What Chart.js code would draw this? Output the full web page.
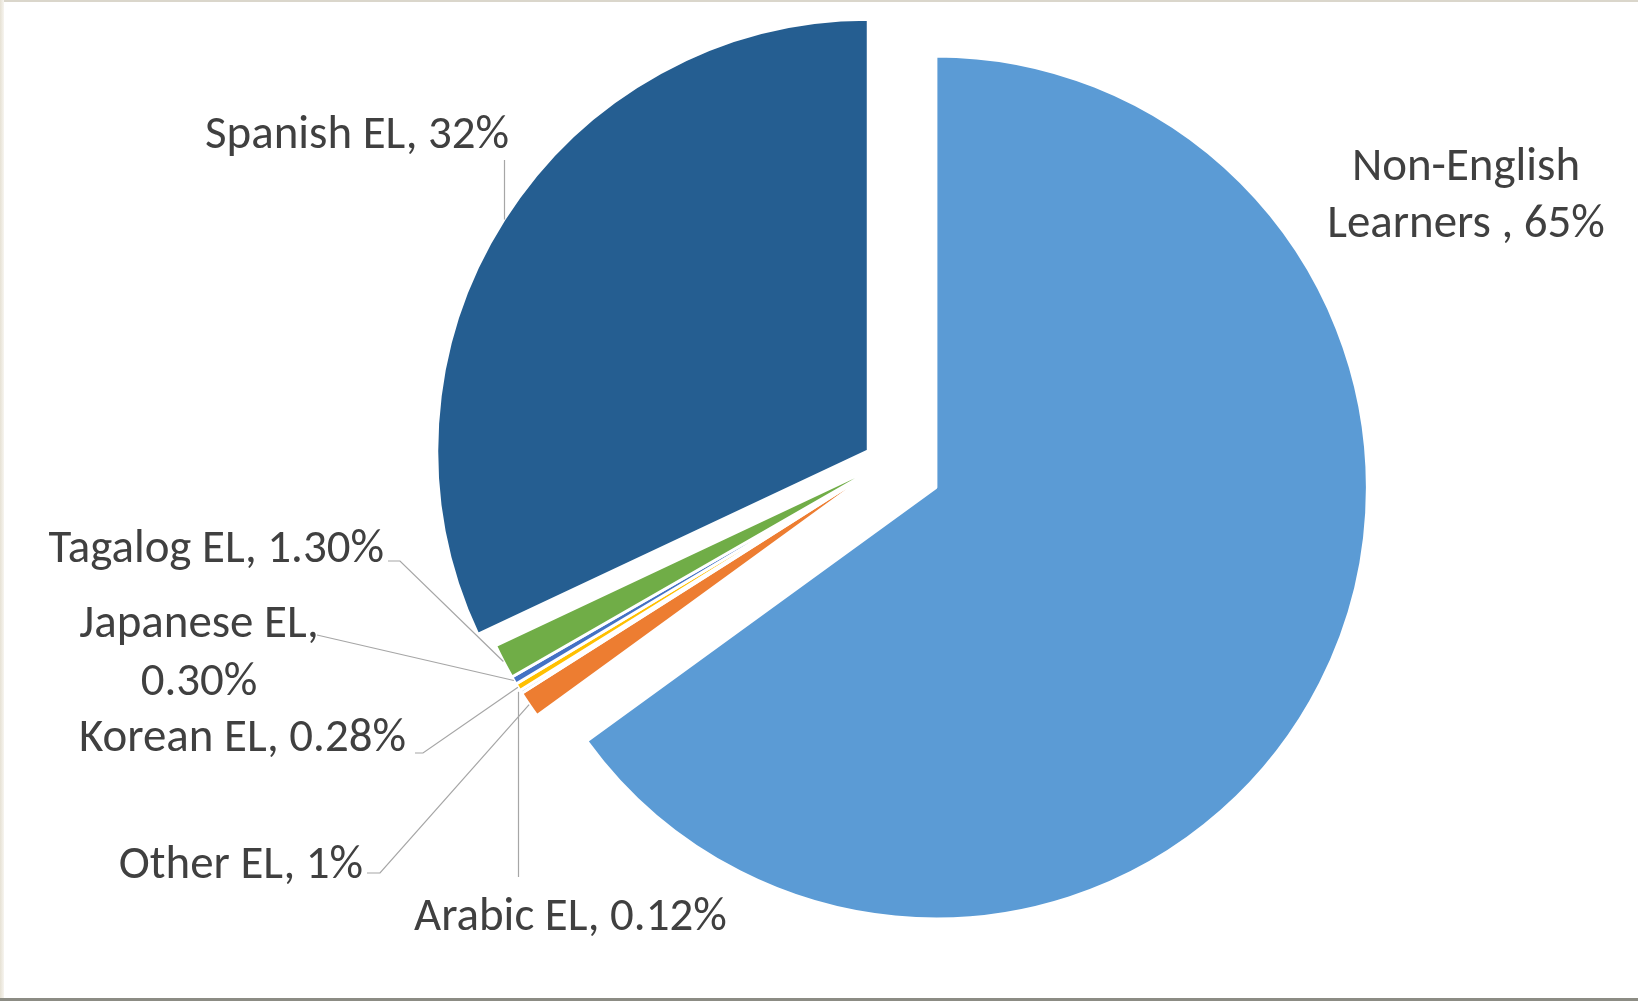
<!DOCTYPE html>
<html><head><meta charset="utf-8">
<script src="https://cdn.jsdelivr.net/npm/chart.js@4.4.1/dist/chart.umd.min.js"></script>
<style>
html,body{margin:0;padding:0;background:#fff;overflow:hidden}
#wrap{position:relative;width:1638px;height:1001px}
canvas{display:block}
</style></head>
<body><div id="wrap"><canvas id="c" width="1638" height="1001"></canvas></div>
<script>
// ---- data ----
const categories = ['Non-English Learners ', 'Other EL', 'Arabic EL', 'Korean EL', 'Japanese EL', 'Tagalog EL', 'Spanish EL'];
const shares = [65, 1, 0.12, 0.28, 0.30, 1.30, 32];
const valueLabels = ['65%', '1%', '0.12%', '0.28%', '0.30%', '1.30%', '32%'];
const sliceColors = ['#5B9BD5', '#ED7D31', '#A5A5A5', '#FFC000', '#4472C4', '#70AD47', '#255E91'];
const explodeDistance = [56, 0, 0, 0, 0, 0, 21];

// ---- label layout (positions of annotation text only) ----
const labelLayout = [
  {align: 'center', x: 1466, baselines: [180, 237], wrap: 1},
  {align: 'right', x: 363, baselines: [878], leader: [[367, 873], [380, 873]]},
  {align: 'left', x: 414, baselines: [930], vertical: 877, shift: -3},
  {align: 'right', x: 406, baselines: [751], leader: [[415, 753], [423, 753]]},
  {align: 'center', x: 199, baselines: [637, 695], wrap: 2, leader: [[317, 635]]},
  {align: 'right', x: 384, baselines: [562], leader: [[388, 561], [400, 561]]},
  {align: 'right', x: 509, baselines: [148], vertical: 160}
];

const FONT_FAMILY = '"Carlito", "Lato", "Open Sans", sans-serif';
const TEXT_COLOR = '#404040';
const LEADER_COLOR = '#A6A6A6';

const explodePlugin = {
  id: 'explode',
  afterDatasetsUpdate(chart) {
    const meta = chart.getDatasetMeta(0);
    meta.data.forEach((arc, i) => {
      const d = explodeDistance[i] || 0;
      if (!d) return;
      const mid = (arc.startAngle + arc.endAngle) / 2;
      arc.x += Math.cos(mid) * d;
      arc.y += Math.sin(mid) * d;
    });
  }
};

const framePlugin = {
  id: 'frame',
  beforeDraw(chart) {
    const ctx = chart.ctx, w = chart.width, h = chart.height;
    ctx.save();
    ctx.fillStyle = '#ffffff';
    ctx.fillRect(0, 0, w, h);
    ctx.fillStyle = '#DAD6CB';
    ctx.fillRect(0, 0, w, 2);
    const g = ctx.createLinearGradient(0, 0, 4, 0);
    g.addColorStop(0, '#E6E1D4');
    g.addColorStop(1, '#F7F5F0');
    ctx.fillStyle = g;
    ctx.fillRect(0, 0, 4, h);
    ctx.fillStyle = '#8C8C84';
    ctx.fillRect(0, h - 3, w, 3);
    ctx.restore();
  }
};

const labelPlugin = {
  id: 'sliceLabels',
  afterDraw(chart) {
    const ctx = chart.ctx;
    const meta = chart.getDatasetMeta(0);
    // fit font so the label widths match the reference
    ctx.save();
    ctx.font = '100px ' + FONT_FAMILY;
    const refW = ctx.measureText('Spanish EL, 32%').width;
    const size = Math.round(100 * 304 / refW * 10) / 10;
    ctx.font = size + 'px ' + FONT_FAMILY;
    ctx.fillStyle = TEXT_COLOR;
    ctx.strokeStyle = LEADER_COLOR;
    ctx.lineWidth = 1.2;
    meta.data.forEach((arc, i) => {
      const L = labelLayout[i];
      const mid = (arc.startAngle + arc.endAngle) / 2;
      const ax = arc.x + Math.cos(mid) * arc.outerRadius;
      const ay = arc.y + Math.sin(mid) * arc.outerRadius;
      if (L.leader) {
        ctx.beginPath();
        ctx.moveTo(L.leader[0][0], L.leader[0][1]);
        for (let k = 1; k < L.leader.length; k++) ctx.lineTo(L.leader[k][0], L.leader[k][1]);
        ctx.lineTo(ax, ay);
        ctx.stroke();
      } else if (L.vertical !== undefined) {
        const lx = Math.round(ax + (L.shift || 0)) + 0.5;
        ctx.beginPath();
        ctx.moveTo(lx, L.vertical);
        ctx.lineTo(lx, ay);
        ctx.stroke();
      }
      const full = categories[i] + ', ' + valueLabels[i];
      let lines = [full];
      if (L.wrap) {
        const words = full.split(' ');
        lines = [words.slice(0, L.wrap).join(' '), words.slice(L.wrap).join(' ')];
      }
      ctx.textAlign = L.align;
      ctx.textBaseline = 'alphabetic';
      lines.forEach((t, k) => ctx.fillText(t, L.x, L.baselines[k]));
    });
    ctx.restore();
  }
};

new Chart(document.getElementById('c'), {
  type: 'pie',
  data: {
    labels: categories,
    datasets: [{
      data: shares,
      backgroundColor: sliceColors,
      borderColor: '#ffffff',
      borderWidth: 3,
      radius: 431.5
    }]
  },
  options: {
    responsive: false,
    animation: false,
    events: [],
    layout: {padding: {left: 134, right: 0, top: 0, bottom: 77}},
    plugins: {legend: {display: false}, tooltip: {enabled: false}}
  },
  plugins: [framePlugin, explodePlugin, labelPlugin]
});
</script>
</body></html>
